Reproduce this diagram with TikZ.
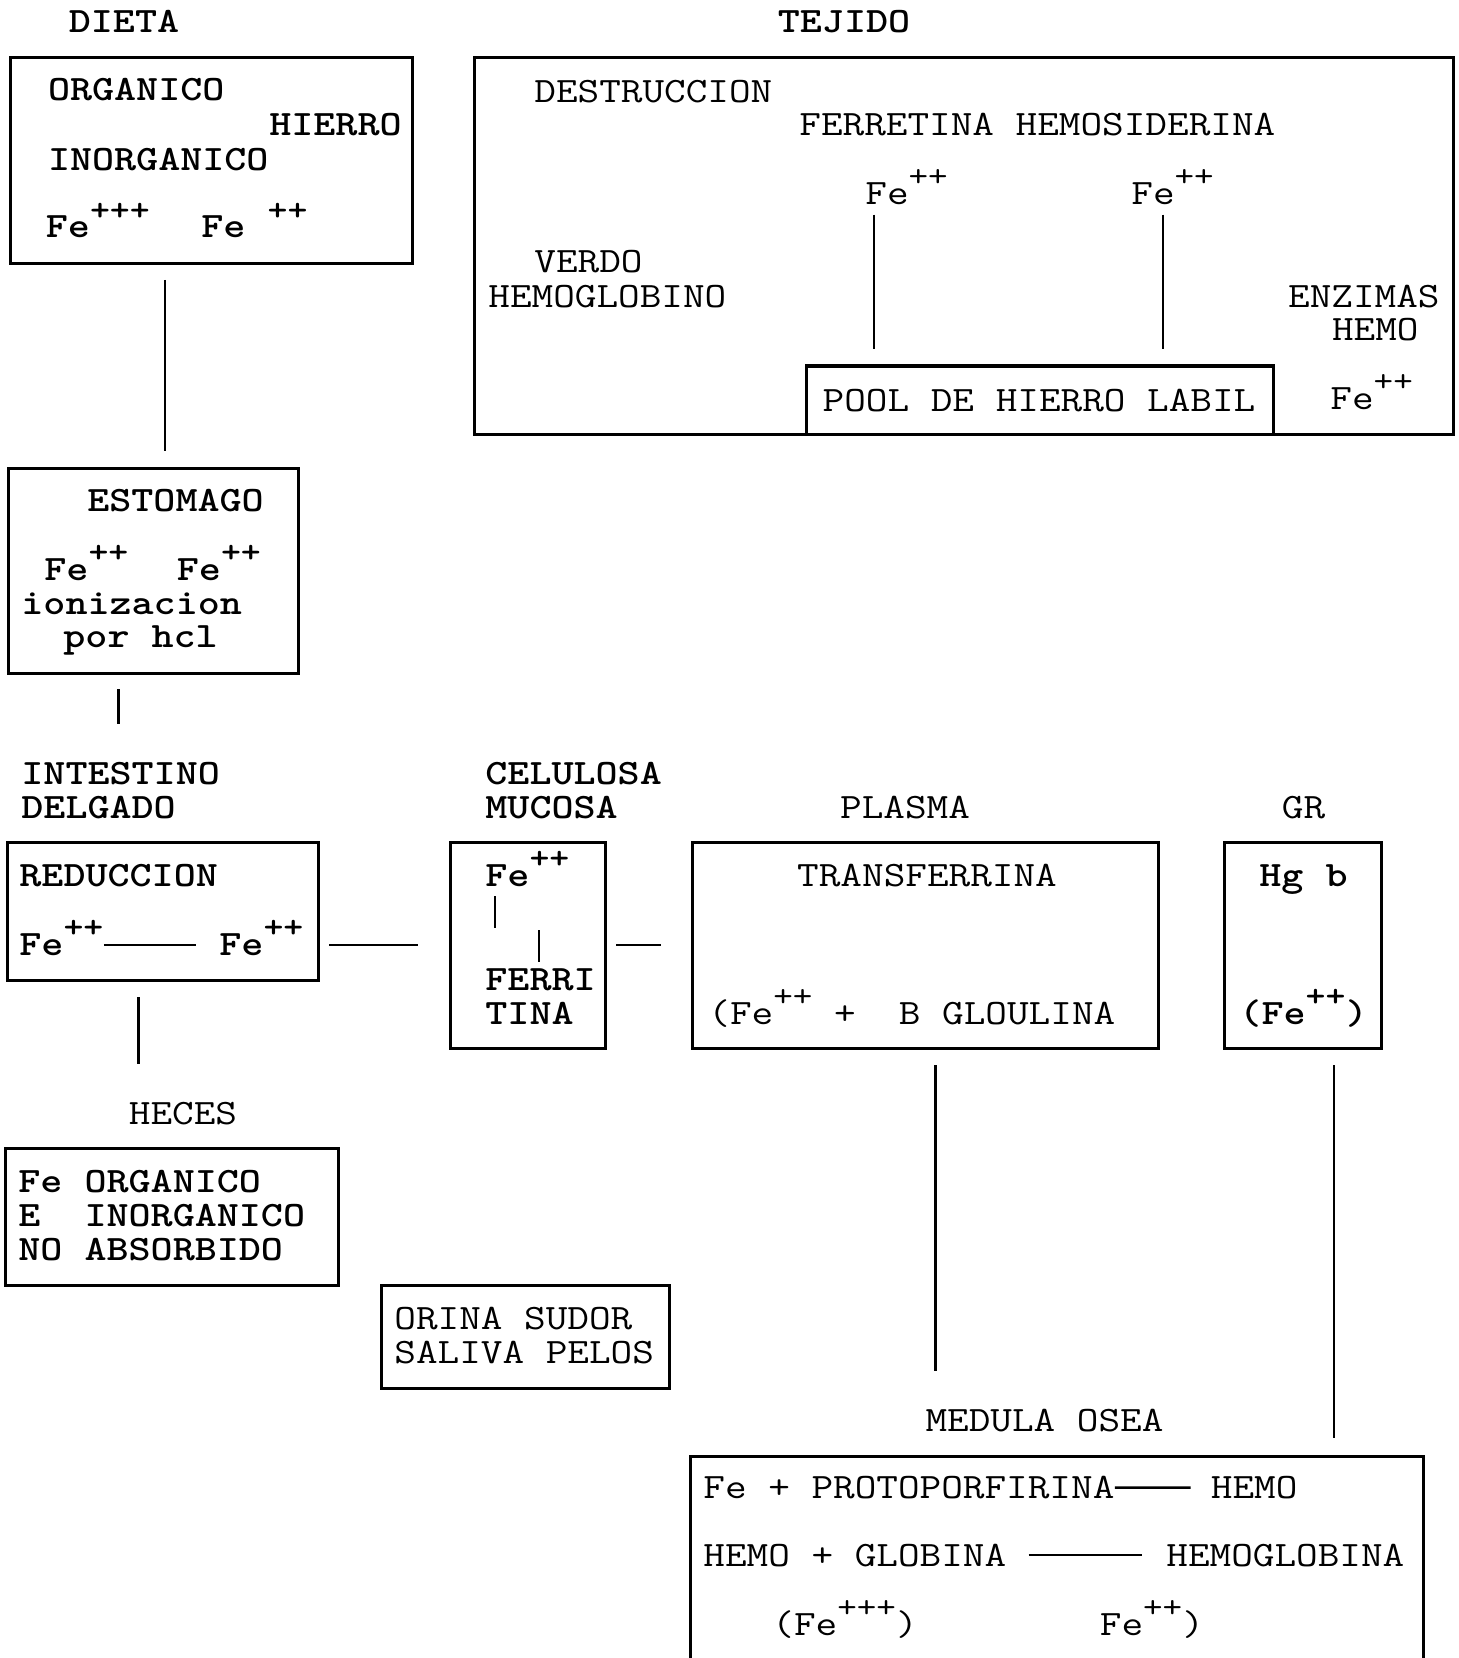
\documentclass[tikz,border=0pt]{standalone}
\usetikzlibrary{fit}
\newcommand\chg[1]{\raisebox{0.5em}{\fontsize{19}{19}\selectfont #1}}
\tikzset{
  box/.style={draw, line width=1.5pt, inner sep=0pt},
  link/.style={line width=1.2pt},
  squash/.style={execute at begin node={\setbox0\hbox\bgroup},
    execute at end node={\egroup\scalebox{1}[0.85]{\box0}}},
  txt/.style={squash, inner sep=0pt, anchor=base west, font=\ttfamily\bfseries\fontsize{21}{17}\selectfont},
  txtl/.style={txt, font=\ttfamily\fontsize{21}{17}\selectfont},
}
\begin{document}
\begin{tikzpicture}[x=0.5pt,y=-0.5pt]
\useasboundingbox (0,0) rectangle (1459,1658);
% boxes
\node[box, fit={(10.6,58) (412,264)}] (dieta) {};
\node[box, fit={(474.7,58) (1453.6,434.5)}] (tejido) {};
\node[box, fit={(806.6,366) (1273,434.5)}] (pool) {};
\node[box, fit={(8.5,468) (298,673)}] (estomago) {};
\node[box, fit={(7.4,842.6) (318,980)}] (intestino) {};
\node[box, fit={(450,842.6) (605,1048)}] (celulosa) {};
\node[box, fit={(692.5,842.6) (1158.7,1048)}] (plasma) {};
\node[box, fit={(1224,842.6) (1381,1048)}] (gr) {};
\node[box, fit={(5.3,1148) (338,1285.6)}] (heces) {};
\node[box, fit={(381.6,1285.6) (669,1388)}] (orina) {};
\node[box, fit={(690,1456) (1423,1690)}] (medula) {};
% titles
\node[txt, anchor=base] (tDieta) at (124,33) {DIETA};
\node[txt, anchor=base] (tTejido) at (844,33) {TEJIDO};
% dieta
\node[txt] (org) at (47.6,101) {ORGANICO};
\node[txt, anchor=base east] (hierro) at (402,136) {HIERRO};
\node[txt] (inorg) at (47.6,171) {INORGANICO};
\node[txt] (feD1) at (45.5,238) {Fe\chg{+++}};
\node[txt] (feD2) at (201,238) {Fe~\chg{++}};
% tejido
\node[txtl] (destr) at (534,103) {DESTRUCCION};
\node[txtl] (ferret) at (799,136) {FERRETINA HEMOSIDERINA};
\node[txtl] (feT1) at (865,204.5) {Fe\chg{++}};
\node[txtl] (feT2) at (1131,204.5) {Fe\chg{++}};
\node[txtl] (verdo) at (534,273) {VERDO};
\node[txtl] (hglob) at (488,308) {HEMOGLOBINO};
\node[txtl, anchor=base east] (enzimas) at (1440,307) {ENZIMAS};
\node[txtl, anchor=base east] (hemoT) at (1419,341) {HEMO};
\node[txtl, anchor=base] (poolT) at (1039,411) {POOL DE HIERRO LABIL};
\node[txtl] (feT3) at (1330,409.6) {Fe\chg{++}};
% estomago
\node[txt, anchor=base] (estT) at (175.5,511) {ESTOMAGO};
\node[txt] (feE1) at (44,580) {Fe\chg{++}};
\node[txt] (feE2) at (176.5,580) {Fe\chg{++}};
\node[txt] (ioniz) at (21,614) {ionizacion};
\node[txt] (porhcl) at (63,647.5) {por hcl};
% intestino
\node[txt] (intT) at (21,784) {INTESTINO};
\node[txt] (delT) at (21,818) {DELGADO};
\node[txt] (reduc) at (19,886) {REDUCCION};
\node[txt] (feI1) at (19,955) {Fe\chg{++}};
\node[txt] (feI2) at (219,955) {Fe\chg{++}};
% celulosa
\node[txt] (celT) at (485,784) {CELULOSA};
\node[txt] (mucT) at (485,818) {MUCOSA};
\node[txt] (feC) at (485,886) {Fe\chg{++}};
\node[txt] (ferri) at (485,990) {FERRI};
\node[txt] (tina) at (485,1024) {TINA};
% plasma
\node[txtl, anchor=base] (plaT) at (905,818) {PLASMA};
\node[txtl, anchor=base] (transf) at (927,886) {TRANSFERRINA};
\node[txtl] (glou) at (708,1024) {(Fe\chg{++}~+~~B GLOULINA};
% gr
\node[txtl, anchor=base] (grT) at (1303.5,818) {GR};
\node[txt, anchor=base] (hgb) at (1303.5,886) {Hg b};
\node[txt, anchor=base] (feG) at (1303.5,1024) {(Fe\chg{++})};
% heces, orina
\node[txtl, anchor=base] (hecT) at (183,1124) {HECES};
\node[txt] (hec1) at (18,1192) {Fe~ORGANICO};
\node[txt] (hec2) at (18,1226) {E~~INORGANICO};
\node[txt] (hec3) at (18,1260.6) {NO~ABSORBIDO};
\node[txtl] (ori1) at (394,1329) {ORINA SUDOR};
\node[txtl] (ori2) at (394,1363) {SALIVA PELOS};
% medula osea
\node[txtl, anchor=base] (medT) at (1044.5,1431) {MEDULA OSEA};
\node[txtl] (med1) at (703,1498.5) {Fe + PROTOPORFIRINA};
\node[txtl] (med1b) at (1210.5,1498.5) {HEMO};
\node[txtl] (med2) at (703,1566) {HEMO + GLOBINA};
\node[txtl] (med2b) at (1166,1566) {HEMOGLOBINA};
\node[txtl] (med3) at (772,1635) {(Fe\chg{+++})};
\node[txtl] (med3b) at (1099.5,1635) {Fe\chg{++})};
% connector ends
\coordinate (dS) at (165,280);    \coordinate (eN) at (165,451);
\coordinate (eS) at (118.5,689);  \coordinate (iN) at (118.5,724);
\coordinate (iS) at (138.5,997);  \coordinate (hN) at (138.5,1063.5);
\coordinate (iE) at (329,945);    \coordinate (cW) at (418,945);
\coordinate (cE) at (616,945);    \coordinate (pW) at (661,945);
\coordinate (pS) at (935.6,1065); \coordinate (mN1) at (935.6,1371);
\coordinate (gS) at (1334,1065);  \coordinate (mN2) at (1334,1438);
\coordinate (t1a) at (874,214.6); \coordinate (t1b) at (874,349);
\coordinate (t2a) at (1163,214.6); \coordinate (t2b) at (1163,349);
\coordinate (c1a) at (495,896);   \coordinate (c1b) at (495,928);
\coordinate (c2a) at (539,930);   \coordinate (c2b) at (539,962);
\foreach \a/\b in {dS/eN, eS/iN, iS/hN, iE/cW, cE/pW, pS/mN1, gS/mN2, c1a/c1b, c2a/c2b}
  \draw[link] (\a) -- (\b);
\foreach \a/\b in {t1a/t1b, t2a/t2b}
  \draw[line width=1pt] (\a) -- (\b);
% arrows inside boxes
\draw[link] ([yshift=5pt]feI1.base east) -- ([xshift=-11.5pt,yshift=5pt]feI2.base west);
\draw[link] (med1.east) -- ([xshift=-10pt]med1b.west);
\draw[link] ([xshift=11pt]med2.east) -- ([xshift=-12pt]med2b.west);
\end{tikzpicture}
\end{document}
